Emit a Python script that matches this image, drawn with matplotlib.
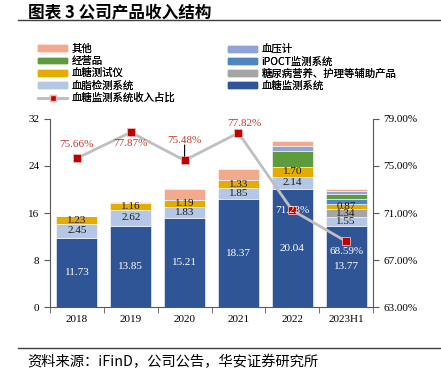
import matplotlib
matplotlib.use("Agg")
import matplotlib.pyplot as plt
from matplotlib.patches import Patch
from matplotlib.lines import Line2D
from matplotlib.ticker import FuncFormatter
import numpy as np

plt.rcParams['font.family'] = ['Liberation Serif', 'Noto Sans CJK SC', 'DejaVu Sans']
CJK = ['Noto Sans CJK SC', 'DejaVu Sans']

# data (亿元)
years = ['2018', '2019', '2020', '2021', '2022', '2023H1']
bgm = [11.73, 13.85, 15.21, 18.37, 20.04, 13.77]       # 血糖监测系统
lipid = [2.45, 2.62, 1.83, 1.85, 2.14, 1.55]           # 血脂检测系统
nutri = [0, 0, 0, 0, 0, 1.34]                          # 糖尿病营养、护理等辅助产品
meter = [1.23, 1.16, 1.19, 1.33, 1.70, 0.87]           # 血糖测试仪
ipoct = [0, 0, 0, 0, 0, 0.90]                          # iPOCT监测系统
trade = [0, 0, 0, 0, 2.60, 0.75]                       # 经营品
bp = [0, 0, 0, 0, 1.00, 0.50]                          # 血压计
other = [0.10, 0.20, 1.78, 2.00, 0.70, 0.35]           # 其他
ratio = [75.66, 77.87, 75.48, 77.82, 71.23, 68.59]     # 血糖监测系统收入占比 %

series = [
    ('血糖监测系统', bgm, '#2F5597'),
    ('血脂检测系统', lipid, '#B4C7E7'),
    ('糖尿病营养、护理等辅助产品', nutri, '#A5A5A5'),
    ('血糖测试仪', meter, '#E5AC00'),
    ('iPOCT监测系统', ipoct, '#4E86C1'),
    ('经营品', trade, '#5E9B3D'),
    ('血压计', bp, '#8FA3D6'),
    ('其他', other, '#F2A98C'),
]
labelled = {'血糖监测系统': 'white', '血脂检测系统': '#1a1a1a',
            '糖尿病营养、护理等辅助产品': '#1a1a1a', '血糖测试仪': '#1a1a1a'}

fig = plt.figure(figsize=(4.41, 3.78), dpi=100)
ax = fig.add_axes([0.1134, 0.1878, 0.7324, 0.4974])
x = np.arange(len(years))
bottom = np.zeros(len(years))
colors = {}
for name, vals, col in series:
    vals = np.array(vals, dtype=float)
    ax.bar(x, vals, 0.76, bottom=bottom, color=col, edgecolor='white', linewidth=0.4, zorder=2)
    colors[name] = col
    if name in labelled:
        for i, v in enumerate(vals):
            if v > 0:
                ax.text(x[i], bottom[i] + v / 2, f'{v:.2f}', ha='center', va='center',
                        fontsize=8, color=labelled[name], zorder=4)
    bottom += vals

ax.set_xlim(-0.5, len(years) - 0.5)
ax.set_ylim(0, 32)
ax.set_yticks([0, 8, 16, 24, 32])
ax.set_xticks(x)
ax.set_xticklabels(years)
ax.set_xticks(np.arange(len(years) + 1) - 0.5, minor=True)
ax.tick_params(axis='x', which='major', length=0, labelsize=8, pad=6)
ax.tick_params(axis='x', which='minor', length=4, direction='out', color='#595959')
ax.tick_params(axis='y', length=4, direction='out', labelsize=8, color='#595959')
for s in ['top', 'right']:
    ax.spines[s].set_visible(False)
for s in ['left', 'bottom']:
    ax.spines[s].set_color('#595959')
    ax.spines[s].set_linewidth(0.8)

ax2 = ax.twinx()
ax2.set_ylim(63, 79)
ax2.set_yticks([63, 67, 71, 75, 79])
ax2.yaxis.set_major_formatter(FuncFormatter(lambda v, p: f'{v:.2f}%'))
ax2.tick_params(axis='y', length=4, direction='out', labelsize=8, color='#595959')
for s in ['top', 'left', 'bottom']:
    ax2.spines[s].set_visible(False)
ax2.spines['right'].set_color('#595959')
ax2.spines['right'].set_linewidth(0.8)
ax2.plot(x, ratio, color='#BFBFBF', linewidth=2, marker='s', markersize=6,
         markerfacecolor='#C00000', markeredgecolor='#F2B8B8', markeredgewidth=0.6, zorder=3)

# ratio labels: offsets in points relative to the marker
offs = [(0, 10), (0, -8), (0, 14), (4, 7), (0, 0), (0, -7)]
tcols = ['#C0392B', '#C0392B', '#C0392B', '#C0392B', 'white', 'white']
for i, r in enumerate(ratio):
    ax2.annotate(f'{r:.2f}%', (x[i], r), xytext=offs[i], textcoords='offset points',
                 ha='center', va='center', fontsize=8, color=tcols[i], zorder=5)
ax2.annotate('', (x[2], ratio[2]), xytext=(0, 11), textcoords='offset points',
             arrowprops=dict(arrowstyle='-', color='black', linewidth=0.8, shrinkA=0, shrinkB=3))

# legends
h1 = [Patch(color=colors['其他']), Patch(color=colors['经营品']), Patch(color=colors['血糖测试仪']),
      Patch(color=colors['血脂检测系统']),
      Line2D([], [], color='#BFBFBF', linewidth=2, marker='s', markersize=5,
             markerfacecolor='#C00000', markeredgecolor='#F2B8B8')]
l1 = ['其他', '经营品', '血糖测试仪', '血脂检测系统', '血糖监测系统收入占比']
h2 = [Patch(color=colors['血压计']), Patch(color=colors['iPOCT监测系统']),
      Patch(color=colors['糖尿病营养、护理等辅助产品']), Patch(color=colors['血糖监测系统'])]
l2 = ['血压计', 'iPOCT监测系统', '糖尿病营养、护理等辅助产品', '血糖监测系统']
for hs, ls, xa in [(h1, l1, 38 / 441), (h2, l2, 228 / 441)]:
    leg = fig.legend(hs, ls, loc='upper left', bbox_to_anchor=(xa, 1 - 44 / 378),
                     frameon=False, borderpad=0, borderaxespad=0, handlelength=2.8,
                     handleheight=0.5, handletextpad=0.4, labelspacing=0.2,
                     prop={'family': CJK, 'size': 7.5})
    fig.add_artist(leg)

fig.text(28 / 441, 1 - 12 / 378, '图表 3 公司产品收入结构', family=CJK, fontsize=12,
         fontweight='bold', va='center', ha='left')
fig.add_artist(Line2D([18 / 441, 1], [1 - 19.5 / 378] * 2, color='#404040', linewidth=1))
fig.add_artist(Line2D([18 / 441, 1], [1 - 347.5 / 378] * 2, color='#404040', linewidth=1))
fig.text(27 / 441, 1 - 362 / 378, '资料来源：iFinD，公司公告，华安证券研究所', family=CJK,
         fontsize=10.3, va='center', ha='left')

fig.savefig('out.png', dpi=100)
